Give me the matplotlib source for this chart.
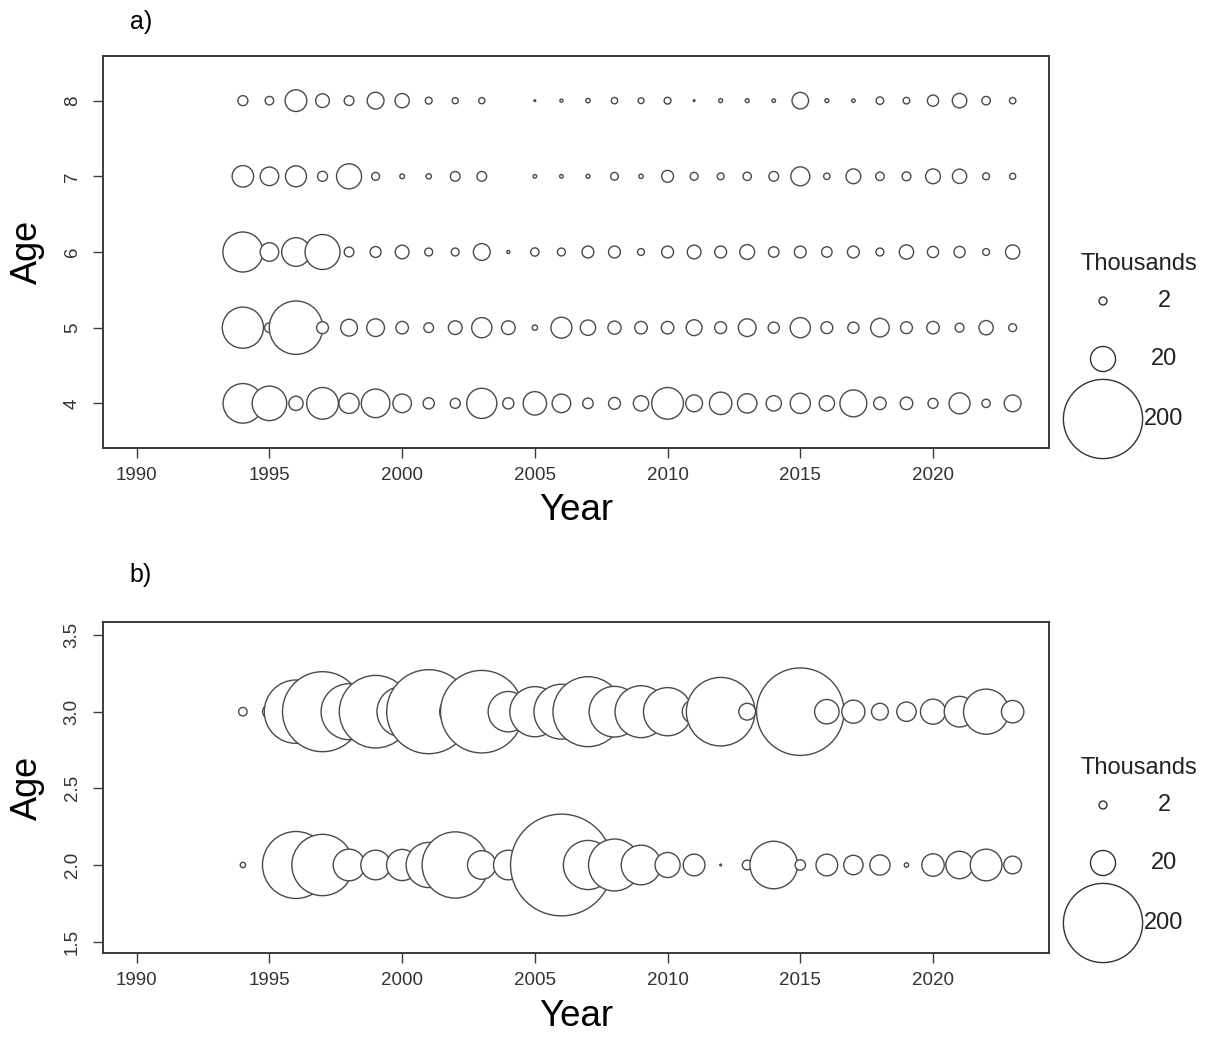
import numpy as np
import matplotlib
matplotlib.use("Agg")
import matplotlib.pyplot as plt

plt.rcParams['font.family'] = ['Liberation Sans', 'DejaVu Sans']

W, H, DPI = 1216, 1038, 100

years = list(range(1994, 2024))
nan = np.nan

# panel a) numbers at age (thousands), ages 4-8
age4 = [50, 38, 6.5, 32, 13, 26, 11, 4, 3.2, 29, 4, 17.5, 11, 3.5, 4.5,
        7.5, 32, 9, 16, 12, 7.5, 13, 7.5, 23, 5, 5, 3.2, 14, 2.2, 9]
age5 = [54, 3, 91, 4.5, 9, 10, 5, 3, 6, 13, 6, 0.9, 14, 7.5, 5.5,
        5, 5, 8, 4.5, 10, 4, 13, 4.5, 4, 11, 4.5, 5, 2.5, 6.5, 2]
age6 = [51, 11, 26, 39, 3, 3.8, 6, 2, 2, 9, 0.3, 2.2, 2, 4.5, 4.5,
        1.5, 4.5, 6, 4.5, 7, 3.5, 4.5, 3.5, 4.5, 2, 6.5, 4, 4, 1.5, 6.5]
age7 = [14.7, 11, 14, 3.2, 20, 2, 0.7, 0.9, 3, 3, nan, 0.4, 0.4, 0.5, 1.9,
        0.6, 4.5, 2, 1.5, 2.2, 3, 11.5, 1.3, 7, 2.3, 2.5, 7, 6.5, 1.5, 1.2]
age8 = [3.2, 2.3, 15, 6, 3, 9, 6.5, 1.5, 1.2, 1.2, nan, 0.1, 0.3, 0.6, 1.3,
        1.1, 1.5, 0.1, 0.5, 0.5, 0.4, 8.7, 0.5, 0.4, 1.8, 1.4, 4, 6.7, 2.3, 1.3]

# panel b) ages 2-3
age2 = [0.9, nan, 143, 120, 32, 28, 31, 65, 140, 26, 28, 20, 330, 77, 86,
        50, 20, 15, 0.1, 3, 72, 3.5, 15, 12, 13, 0.6, 16, 24, 32, 10]
age3 = [2.3, 6, 128, 204, 100, 168, 81, 225, 31, 217, 52, 80, 96, 156, 82,
        86, 74, 18, 150, 9, 10, 244, 19, 17, 9, 12, 20, 30, 65, 16]

legend_vals = [2, 20, 200]

EDGE = '#4a4a4a'
FRAME = '#3a3a3a'


def size(v):
    # circle area proportional to value: diameter = 5.6 px * sqrt(thousands)
    d_pt = 5.6 * np.sqrt(np.asarray(v, dtype=float)) * 72 / DPI
    return d_pt ** 2


def px_axes(l, t, r, b):
    return [l / W, 1 - b / H, (r - l) / W, (b - t) / H]


fig = plt.figure(figsize=(W / DPI, H / DPI), dpi=DPI)


def bubble_panel(box, rows, ylim, yticks, ylabels):
    ax = fig.add_axes(px_axes(*box))
    for age, vals in rows:
        vals = np.asarray(vals, dtype=float)
        ok = ~np.isnan(vals)
        ax.scatter(np.array(years)[ok], np.full(ok.sum(), age), s=size(vals[ok]),
                   facecolor='white', edgecolor=EDGE, linewidths=1.0, zorder=3)
    ax.set_xlim(1988.73, 2024.37)
    ax.set_ylim(*ylim)
    ax.set_xticks(range(1990, 2021, 5))
    ax.set_yticks(yticks)
    ax.set_yticklabels(ylabels, rotation=90, va='center')
    ax.tick_params(length=7, width=1.0, color=FRAME, labelsize=13.5,
                   labelcolor='#333333')
    ax.tick_params(axis='x', pad=7)
    ax.tick_params(axis='y', pad=9)
    for sp in ax.spines.values():
        sp.set_linewidth(1.4)
        sp.set_color(FRAME)
    return ax


def size_legend(top):
    lax = fig.add_axes(px_axes(1050, top - 30, 1216, top + 200))
    lax.set_xlim(1050, 1216)
    lax.set_ylim(top + 200, top - 30)
    lax.axis('off')
    lax.text(1139, top, 'Thousands', ha='center', va='center', fontsize=17,
             color='#222222')
    ys = [top + 37, top + 95, top + 155]
    lax.scatter([1103] * 3, ys, s=size(legend_vals), facecolor='white',
                edgecolor='#333333', linewidths=1.0, clip_on=False)
    for y, v in zip(ys, legend_vals):
        lax.text(1164, y, str(v), ha='center', va='center', fontsize=17,
                 color='#222222')


axa = bubble_panel((103, 56, 1049, 448),
                   [(4, age4), (5, age5), (6, age6), (7, age7), (8, age8)],
                   (3.41, 8.59), [4, 5, 6, 7, 8], ['4', '5', '6', '7', '8'])
axb = bubble_panel((103, 622, 1049, 953),
                   [(2, age2), (3, age3)],
                   (1.426, 3.585), [1.5, 2.0, 2.5, 3.0, 3.5],
                   ['1.5', '2.0', '2.5', '3.0', '3.5'])

size_legend(264)
size_legend(768)

# axis titles and panel tags
for yc, ylab, ytag, tag in [(511, 252, 22, 'a)'), (1017, 788, 575, 'b)')]:
    fig.text(576 / W, 1 - yc / H, 'Year', ha='center', va='center', fontsize=26.5)
    fig.text(27 / W, 1 - ylab / H, 'Age', ha='center', va='center', fontsize=26,
             rotation=90)
    fig.text(141 / W, 1 - ytag / H, tag, ha='center', va='center', fontsize=18)

fig.savefig('out.png', dpi=DPI)
